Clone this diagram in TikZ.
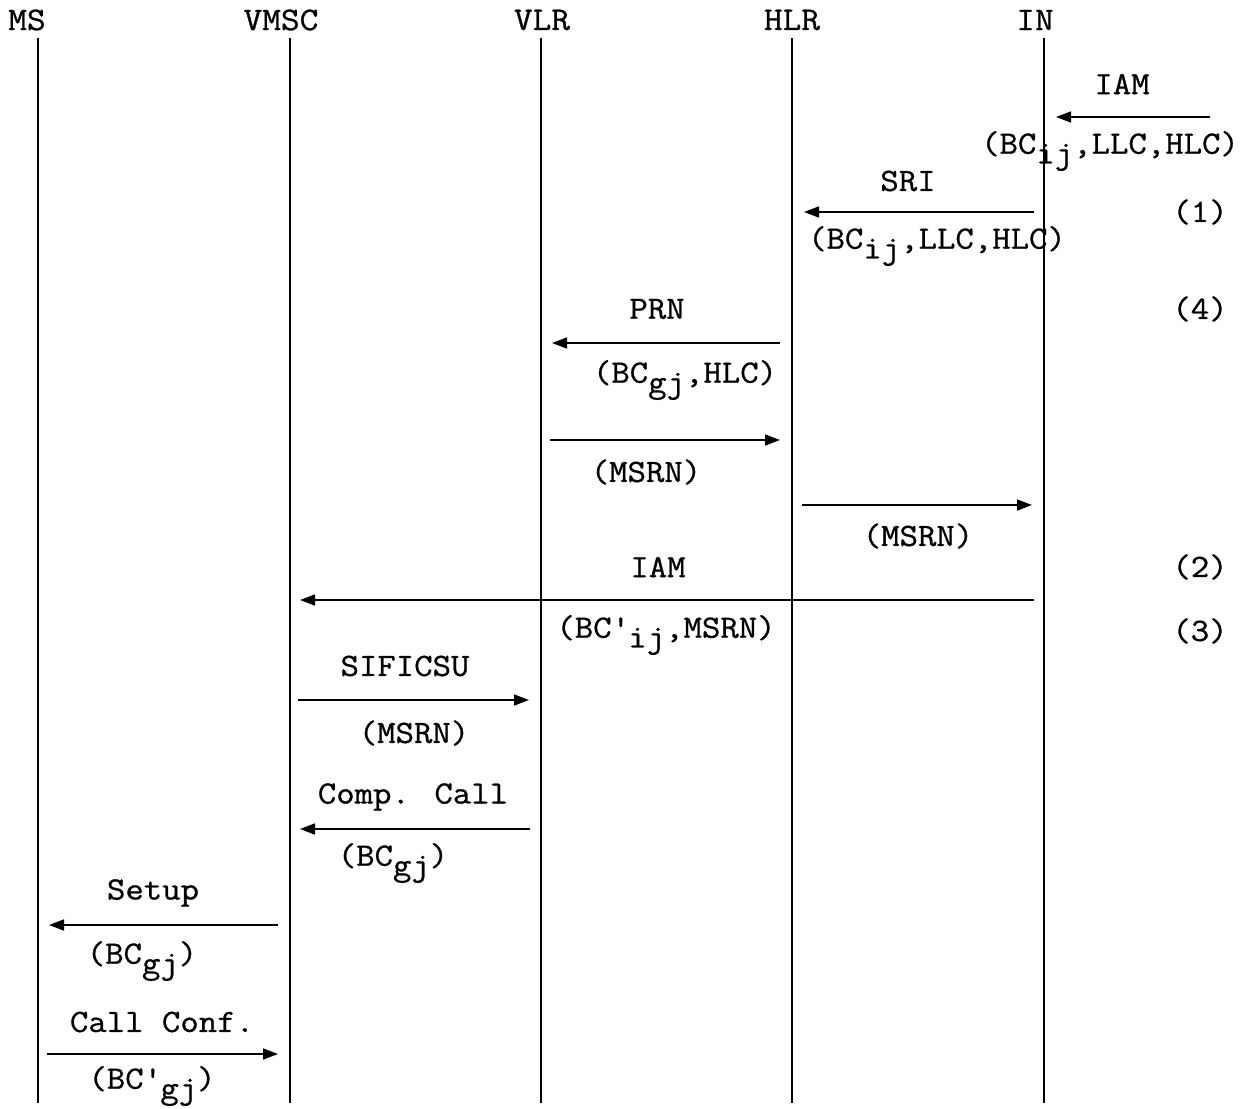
\documentclass[tikz,border=0pt]{standalone}
\usepackage{fontspec}
\setmainfont{Latin Modern Mono}[FakeBold=0.8,FakeStretch=1.1]
\usetikzlibrary{arrows.meta,positioning}
\newcommand{\lowsub}[1]{\raisebox{-0.3em}{#1}}
\newcommand{\pr}{\textquotesingle}

\begin{document}
\begin{tikzpicture}[x=1pt, y=-1pt,
    every node/.style={font=\fontsize{32.5}{34}\selectfont, inner sep=0pt},
    party/.style={font=\fontsize{33}{35}\selectfont},
    lifeline/.style={line width=1.6pt},
    msg/.style={line width=1.6pt, -{Triangle[length=15pt,width=11pt]}}
]
\useasboundingbox (0,0) rectangle (1249,1108);

% parties and their lifelines
\node[party] (ms)   at (27,20)   {MS};
\node[party] (vmsc) at (281,20)  {VMSC};
\node[party] (vlr)  at (542,20)  {VLR};
\node[party] (hlr)  at (792,20)  {HLR};
\node[party] (inet) at (1035,20) {IN};
\foreach \name/\x in {ms/38, vmsc/290, vlr/541, hlr/792, inet/1044}
    \coordinate (\name-top) at (\x,38);
\foreach \name/\x in {ms/38, vmsc/290, vlr/541, hlr/792, inet/1044}
    \draw[lifeline] (\name-top) -- (\x,1103);

% incoming IAM
\coordinate (ext) at (1210,117);
\draw[msg] (ext) -- ([xshift=12pt]inet-top |- ext);
\node (iam1)  at (1122,84)  {IAM};
\node (iam1p) at (1110,151) {(BC\lowsub{ij},LLC,HLC)};

% SRI
\draw[msg] ([xshift=-10pt]inet-top |- 0,212) -- ([xshift=12pt]hlr-top |- 0,212);
\node (sri)  at (908,181) {SRI};
\node (srip) at (937,246) {(BC\lowsub{ij},LLC,HLC)};
\node (n1)   at (1200,212) {(1)};

% PRN
\draw[msg] ([xshift=-12pt]hlr-top |- 0,343) -- ([xshift=11pt]vlr-top |- 0,343);
\node (prn)  at (657,309) {PRN};
\node (prnp) at (685,380) {(BC\lowsub{gj},HLC)};
\node (n4)   at (1200,309) {(4)};

% MSRN back to HLR and IN
\draw[msg] ([xshift=9pt]vlr-top |- 0,440) -- ([xshift=-12pt]hlr-top |- 0,440);
\node (msrn1) at (646,472) {(MSRN)};
\draw[msg] ([xshift=10pt]hlr-top |- 0,505) -- ([xshift=-12pt]inet-top |- 0,505);
\node (msrn2) at (918,536) {(MSRN)};

% IAM to VMSC
\draw[msg] ([xshift=-10pt]inet-top |- 0,600) -- ([xshift=10pt]vmsc-top |- 0,600);
\node (iam2)  at (658,567) {IAM};
\node (iam2p) at (666,635) {(BC\pr\lowsub{ij},MSRN)};
\node (n2)    at (1200,567) {(2)};
\node (n3)    at (1200,631) {(3)};

% SIFICSU
\draw[msg] ([xshift=8pt]vmsc-top |- 0,700) -- ([xshift=-12pt]vlr-top |- 0,700);
\node (sif)  at (405,666) {SIFICSU};
\node (sifp) at (414,733) {(MSRN)};

% Complete Call
\draw[msg] ([xshift=-11pt]vlr-top |- 0,829) -- ([xshift=10pt]vmsc-top |- 0,829);
\node (cc)  at (413,797) {Comp. Call};
\node (ccp) at (393,863) {(BC\lowsub{gj})};

% Setup
\draw[msg] ([xshift=-12pt]vmsc-top |- 0,925) -- ([xshift=11pt]ms-top |- 0,925);
\node (setup)  at (153,893) {Setup};
\node (setupp) at (142,961) {(BC\lowsub{gj})};

% Call Confirmed
\draw[msg] ([xshift=9pt]ms-top |- 0,1054) -- ([xshift=-12pt]vmsc-top |- 0,1054);
\node (conf)  at (162,1022) {Call Conf.};
\node (confp) at (152,1086) {(BC\pr\lowsub{gj})};
\end{tikzpicture}
\end{document}
